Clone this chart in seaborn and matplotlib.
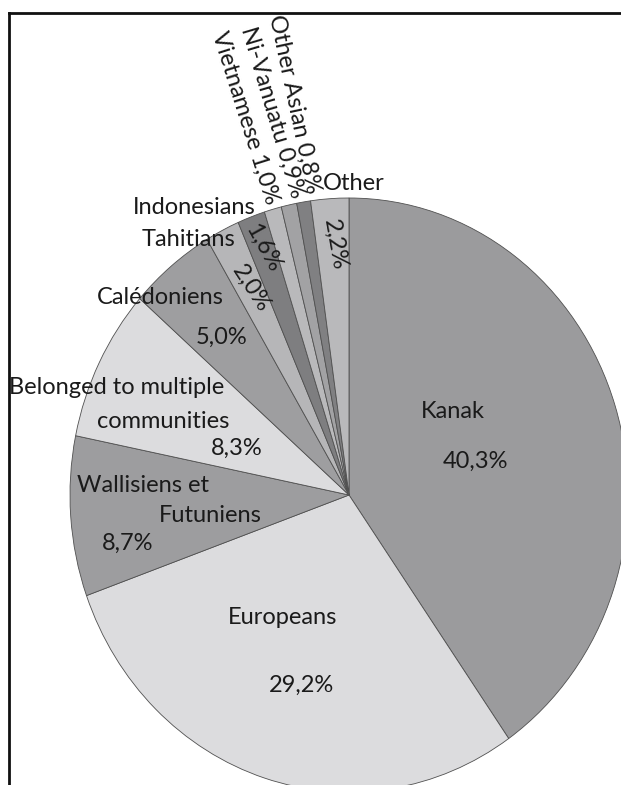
import matplotlib
matplotlib.use("Agg")
import matplotlib.pyplot as plt
from matplotlib.lines import Line2D
import seaborn as sns

# ---- data ----
categories = ["Kanak", "Europeans", "Wallisiens et Futuniens",
              "Belonged to multiple communities", "Calédoniens", "Tahitians",
              "Indonesians", "Vietnamese", "Ni-Vanuatu", "Other Asian", "Other"]
shares = [40.3, 29.2, 8.7, 8.3, 5.0, 2.0, 1.6, 1.0, 0.9, 0.8, 2.2]

# ---- style ----
colors = ["#9b9b9d", "#dcdcde", "#9d9d9f", "#dcdcde", "#9e9e a0".replace(" ", ""),
          "#b6b6b8", "#7e7e80", "#b9b9bb", "#a2a2a4", "#808082", "#b9b9bb"]

sns.set_theme(style="white")
plt.rcParams["font.family"] = ["Lato", "DejaVu Sans"]

W, H = 621, 785
fig = plt.figure(figsize=(W / 100, H / 100), dpi=100)
ax = fig.add_axes([0, 0, 1, 1])

CX, CY, RX, RY = 349, 495, 279, 297

ax.pie(shares, colors=colors, startangle=90, counterclock=False, radius=1,
       wedgeprops=dict(edgecolor="#505050", linewidth=0.6))
ax.set_aspect("auto")
ax.set_xlim(-CX / RX, (W - CX) / RX)
ax.set_ylim(-(H - CY) / RY, CY / RY)
ax.axis("off")


def px(x, y):
    return (x - CX) / RX, (CY - y) / RY


def pct(v):
    return f"{v:.1f}".replace(".", ",") + "%"


FS = 17
tc = "#1a1a1a"

# label layout (pixel positions, rotation)
plain = [
    ("Kanak", 453, 412, 0),
    (pct(shares[0]), 475, 461, 0),
    ("Europeans", 283, 617, 0),
    (pct(shares[1]), 301, 685, 0),
    ("Wallisiens et", 143, 485, 0),
    ("Futuniens", 210, 515, 0),
    (pct(shares[2]), 128, 543, 0),
    ("Belonged to multiple", 117, 387, 0),
    ("communities", 163, 422, 0),
    (pct(shares[3]), 237, 448, 0),
    (categories[4], 160, 297, 0),
    (pct(shares[4]), 222, 337, 0),
    (categories[5], 188, 240, 0),
    (pct(shares[5]), 251, 288, -57),
    (categories[6], 194, 207, 0),
    (pct(shares[6]), 263, 248, -61),
    (categories[10], 354, 183, 0),
    (pct(shares[10]), 335, 245, -80),
    (f"{categories[7]} {pct(shares[7])}", 245, 118, -72.5),
    (f"{categories[8]} {pct(shares[8])}", 272, 112, -73.5),
    (f"{categories[9]} {pct(shares[9])}", 294, 104, -78),
]
for txt, x, y, rot in plain:
    ax.text(*px(x, y), txt, ha="center", va="center", fontsize=FS, color=tc,
            rotation=rot, rotation_mode="anchor")

# frame (top and left edges)
lw = 2.0
fig.add_artist(Line2D([8.5 / W, 8.5 / W], [0, 1 - 12.7 / H], transform=fig.transFigure,
                      color="#111111", linewidth=lw, solid_capstyle="projecting"))
fig.add_artist(Line2D([8.5 / W, 1], [1 - 12.7 / H, 1 - 12.7 / H], transform=fig.transFigure,
                      color="#111111", linewidth=lw, solid_capstyle="projecting"))

fig.savefig("out.png", dpi=100, facecolor="white")
